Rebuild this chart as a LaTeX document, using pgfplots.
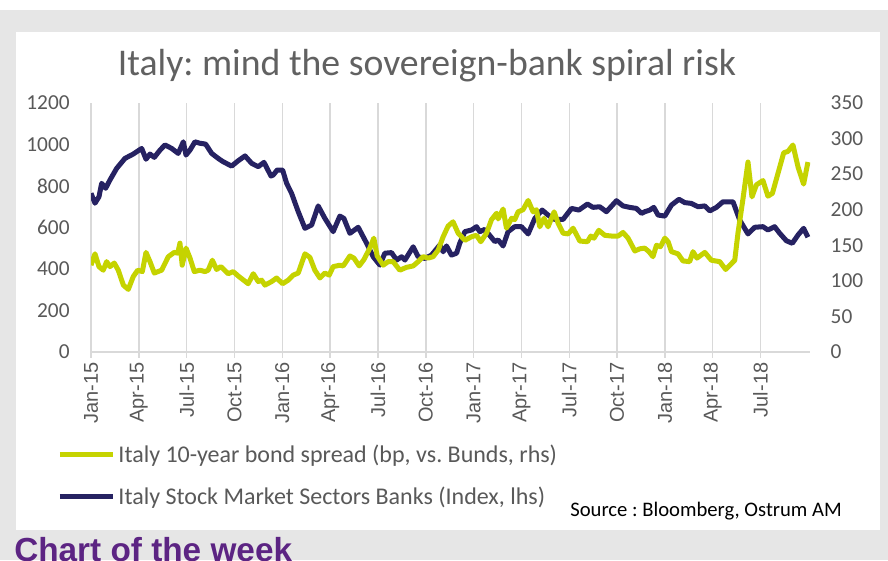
\documentclass[border=0pt]{standalone}
\usepackage{pgfplots}
\usepackage{pgfplotstable}
\pgfplotsset{compat=1.18}
\usepackage{fontspec}
\setmainfont{Carlito}
\newfontfamily\arialfont{Liberation Sans}
\frenchspacing

\definecolor{bankblue}{HTML}{262262}
\definecolor{spreadgreen}{HTML}{C5D300}
\definecolor{gridgray}{HTML}{D9D9D9}
\definecolor{labelgray}{HTML}{595959}
\definecolor{framegray}{HTML}{E6E6E6}
\definecolor{weekpurple}{HTML}{5C2483}

% month index: 0 = Jan-15
\pgfplotstableread{
m v
0.00 765
0.25 717
0.50 748
0.67 813
0.92 789
1.19 829
1.61 885
2.13 933
2.65 954
3.18 981
3.45 929
3.70 954
3.97 938
4.33 973
4.64 998
5.06 981
5.47 957
5.79 1013
5.96 949
6.21 973
6.52 1013
6.83 1006
7.19 1002
7.57 957
7.98 933
8.29 917
8.82 896
9.24 922
9.66 945
10.08 909
10.49 893
10.85 914
11.29 848
11.43 853
11.68 877
12.02 877
12.27 813
12.58 765
13.00 676
13.42 596
13.84 612
14.25 704
14.67 644
15.19 580
15.61 655
15.86 644
16.24 572
16.76 601
17.29 524
17.70 459
18.12 419
18.43 476
18.85 479
19.17 443
19.48 459
19.69 443
20.21 507
20.52 459
20.94 451
21.36 467
21.88 516
22.09 483
22.30 511
22.61 467
22.93 476
23.13 524
23.45 580
23.87 588
24.18 604
24.39 580
24.70 591
25.33 532
25.54 540
25.85 511
26.16 580
26.58 604
27.00 604
27.42 569
27.84 644
28.30 684
28.67 660
29.09 639
29.61 639
30.14 692
30.60 684
31.14 713
31.49 697
31.91 700
32.33 676
32.96 729
33.37 704
33.79 697
34.21 692
34.53 668
34.73 676
35.05 684
35.30 697
35.57 660
35.99 655
36.41 708
36.88 736
37.24 720
37.66 716
38.08 700
38.50 704
38.81 680
39.23 697
39.64 724
40.27 724
40.69 636
41.21 569
41.63 601
42.15 604
42.46 588
42.88 604
43.20 572
43.62 536
43.99 524
44.35 564
44.70 596
44.97 553
}\banks

\pgfplotstableread{
m v
0.00 122
0.25 138
0.50 120
0.77 115
0.98 127
1.19 120
1.46 125
1.71 115
2.03 94
2.34 88
2.65 106
2.93 115
3.22 113
3.45 140
3.70 127
3.97 111
4.43 115
4.85 134
5.22 140
5.44 139
5.58 153
5.72 122
5.96 146
6.21 132
6.48 113
6.83 115
7.15 113
7.35 115
7.61 129
7.88 116
8.15 120
8.61 110
8.92 113
9.28 106
9.86 96
10.18 110
10.49 99
10.70 101
10.91 94
11.33 99
11.64 104
12.02 96
12.37 101
12.68 108
13.00 111
13.42 138
13.73 133
14.04 115
14.36 104
14.67 111
14.94 108
15.19 120
15.61 122
15.82 121
16.24 135
16.49 132
16.82 121
17.12 130
17.49 146
17.74 160
17.95 135
18.33 122
18.64 127
18.95 127
19.37 115
19.79 119
20.21 121
20.52 127
20.83 134
21.15 132
21.46 134
21.77 143
22.09 162
22.40 177
22.71 183
23.03 167
23.45 157
23.87 162
24.18 164
24.45 155
24.81 167
25.12 186
25.44 195
25.54 187
25.85 201
26.06 174
26.38 188
26.58 186
26.79 197
27.10 200
27.42 213
27.73 197
27.94 200
28.15 176
28.42 188
28.67 176
29.05 197
29.30 181
29.61 167
29.93 166
30.24 174
30.66 156
31.14 155
31.35 163
31.55 160
31.85 171
32.23 164
32.65 163
33.06 163
33.37 168
33.69 160
34.11 142
34.42 145
34.73 146
35.00 141
35.25 134
35.47 150
35.72 148
35.99 160
36.20 155
36.41 141
36.82 138
37.13 128
37.55 127
37.76 141
38.01 132
38.50 140
38.91 129
39.44 127
39.81 116
40.38 129
40.58 167
40.90 216
41.21 267
41.46 218
41.74 235
42.15 241
42.46 219
42.74 223
43.09 251
43.45 280
43.72 282
44.03 291
44.35 260
44.70 236
44.97 267
}\spread

\pgfplotsset{
  chartbase/.style={
    scale only axis,
    width=539.25pt, height=186.75pt,
    at={(68.25pt,156pt)}, anchor=south west,
    xmin=0, xmax=45.1,
    ymin=0,
    tick label style={font=\fontsize{16}{16}\selectfont, text=labelgray},
    /pgf/number format/1000 sep={},
    /pgf/number format/assume math mode=true,
    y axis line style={draw=none},
    ytick style={draw=none},
  },
}

\begin{document}
\begin{tikzpicture}
\clip (0,0) rectangle (666pt,420pt);
\fill[white] (0,0) rectangle (666pt,420pt);
\fill[framegray] (0,0) rectangle (666pt,412.5pt);
\fill[white] (12pt,22.5pt) rectangle (660pt,396pt);
\node[anchor=base, font=\fontsize{28.3}{31}\selectfont, text=labelgray!95]
  at (320.25pt,363pt) {Italy: mind the sovereign-bank spiral risk};

\begin{axis}[
  chartbase,
  ymax=1200, ytick={0,200,...,1200},
  axis x line*=bottom, axis y line*=left,
  x axis line style={gridgray, line width=1.1pt},
  xtick={0,3,...,42},
  xticklabels={Jan-15,Apr-15,Jul-15,Oct-15,Jan-16,Apr-16,Jul-16,Oct-16,
    Jan-17,Apr-17,Jul-17,Oct-17,Jan-18,Apr-18,Jul-18},
  xmajorgrids,
  major grid style={gridgray, line width=1.1pt},
  xtick style={gridgray, line width=1.1pt},
  major tick length=4.5pt,
  tick align=outside,
  xticklabel style={rotate=90, anchor=east,
    font=\arialfont\fontsize{15}{15}\selectfont, text=labelgray},
  yticklabel style={xshift=-8pt},
]
\addplot[bankblue, line width=3.75pt, line join=round] table[x=m, y=v] {\banks};
\end{axis}

\begin{axis}[
  chartbase,
  ymax=350, ytick={0,50,...,350},
  axis x line=none, axis y line*=right,
  yticklabel style={xshift=12pt},
  legend style={at={(axis description cs:-0.047,-0.36)}, anchor=north west,
    draw=none, fill=none, inner sep=0pt,
    font=\fontsize{18}{18}\selectfont, text=labelgray,
    row sep=13pt},
  legend cell align=left,
  legend image code/.code={\draw[#1] (0pt,0pt) -- (40pt,0pt);},
]
\addplot[spreadgreen, line width=3.75pt, line join=round] table[x=m, y=v] {\spread};
\addlegendentry{Italy 10-year bond spread (bp, vs. Bunds, rhs)}
\addlegendimage{bankblue, line width=3.75pt}
\addlegendentry{Italy Stock Market Sectors Banks (Index, lhs)}
\end{axis}

\node[anchor=base west, inner sep=0pt, font=\fontsize{15.5}{16}\selectfont]
  at (427.5pt,32.25pt) {Source : Bloomberg, Ostrum AM};
\node[anchor=base west, inner sep=0pt, text=weekpurple,
  font=\arialfont\bfseries\fontsize{25}{25}\selectfont]
  at (10.5pt,-1.5pt) {Chart of the week};
\end{tikzpicture}
\end{document}
